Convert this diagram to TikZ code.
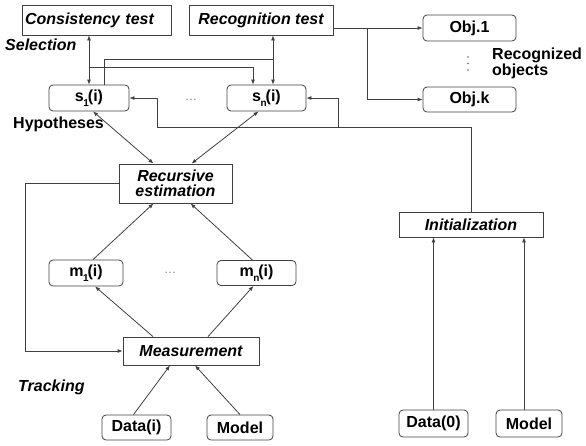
\documentclass[tikz,border=0pt]{standalone}
\usepackage{fontspec}
\setmainfont{Liberation Sans}
\usetikzlibrary{arrows.meta}
\newcommand{\lowsub}[1]{\kern-0.5pt\raisebox{-4.5pt}{\fontsize{10}{10}\selectfont #1}\kern-1pt}

\begin{document}
\begin{tikzpicture}[
  x=1pt, y=-1pt,
  font=\fontsize{16}{13}\selectfont\bfseries,
  arrow/.style={-{Latex[length=5pt,width=4pt]}, line width=0.8pt, draw=black!75},
  biarrow/.style={{Latex[length=5pt,width=4pt]}-{Latex[length=5pt,width=4pt]}, line width=0.8pt, draw=black!75},
  line/.style={line width=0.8pt, draw=black!75},
  proc/.style={draw=black!75, line width=0.8pt, inner sep=0pt, align=center,
    font=\fontsize{16}{15}\selectfont\bfseries\itshape},
  item/.style={draw=black!75, line width=0.8pt, rounded corners=4pt, inner sep=0pt},
  note/.style={inner sep=0pt, anchor=west},
  slant/.style={font=\fontsize{16}{13}\selectfont\bfseries\itshape},
  gap/.style={inner sep=0pt, text=black!50, font=\fontsize{12}{12}\selectfont}
]
\useasboundingbox (0,0) rectangle (586,445);

\node[proc, text width=143pt, inner xsep=3pt, align=left, minimum height=30pt] (cons) at (96.5,20) {Consistency test};
\node[proc, minimum width=144pt, minimum height=30pt] (recog) at (261,20) {Recognition test};
\node[item, minimum width=93pt, minimum height=26pt] (obj1) at (469.5,28) {Obj.1};
\node[item, minimum width=93pt, minimum height=25pt] (objk) at (469.5,99.5) {Obj.k};
\foreach \y in {57,63.5,70} \fill[black!60] (468,\y) circle (0.9);
\node[note, align=left] (recobj) at (492,63) {Recognized\\objects};

\node[note, slant] (sel) at (5,45) {Selection};
\node[item, minimum width=80pt, minimum height=26pt] (s1) at (89,98) {s\lowsub{1}(i)};
\node[item, minimum width=79pt, minimum height=26pt] (sn) at (266.5,98) {s\lowsub{n}(i)};
\node[gap] (sdots) at (191,100) {\dots};
\node[note] (hyp) at (13,124) {Hypotheses};

\node[proc, minimum width=113pt, minimum height=39pt] (rec) at (175.5,183.5) {Recursive\\estimation};
\node[item, minimum width=74pt, minimum height=26pt] (m1) at (86,273) {m\lowsub{1}(i)};
\node[item, minimum width=79pt, minimum height=25pt] (mn) at (256.5,273) {m\lowsub{n}(i)};
\node[gap] (mdots) at (170,273) {\dots};
\node[proc, minimum width=136pt, minimum height=28pt] (meas) at (191,351) {Measurement};
\node[note, slant] (track) at (18,387) {Tracking};
\node[item, minimum width=69pt, minimum height=25pt] (datai) at (136.5,427.5) {Data(i)};
\node[item, minimum width=66pt, minimum height=25pt] (modeli) at (240,427.5) {Model};

\node[proc, minimum width=144pt, minimum height=25pt] (init) at (471,224.5) {Initialization};
\node[item, minimum width=69pt, minimum height=27pt] (data0) at (433.5,423.5) {Data(0)};
\node[item, minimum width=66pt, minimum height=27pt] (model0) at (529,423.5) {Model};

\coordinate (rA) at ([xshift=6.5pt]sn.north);
\coordinate (cA) at ([xshift=-13.5pt]sn.north);
\coordinate (hA) at ([xshift=15pt]s1.north);
\coordinate (bus) at (157,127);
\coordinate (busn) at (338,127);
\coordinate (oA) at (367,28);

\draw[biarrow] (s1.north) -- (s1.north |- cons.south);
\draw[arrow] (s1.north |- 0,67) -| (cA);
\draw[biarrow] (rA) -- (rA |- recog.south);
\draw[line] (hA) |- (rA |- 0,59);
\draw[arrow] (recog.east |- obj1.west) -- (obj1.west);
\draw[arrow] (oA) |- (objk.west);
\draw[arrow] (init.north) |- (bus) |- (s1.east);
\draw[arrow] (busn) |- (sn.east);

\draw[biarrow] ([xshift=4pt]s1.south) -- ([xshift=-22pt]rec.north);
\draw[biarrow] ([xshift=-8pt]sn.south) -- ([xshift=16pt]rec.north);
\draw[arrow] ([xshift=7pt]m1.north) -- ([xshift=-22pt]rec.south);
\draw[arrow] ([xshift=-4pt]mn.north) -- ([xshift=15pt]rec.south);
\draw[arrow] ([xshift=-38pt]meas.north) -- ([xshift=9pt]m1.south);
\draw[arrow] ([xshift=17pt]meas.north) -- ([xshift=-3pt]mn.south);
\draw[arrow] (rec.west) -- ++(-93,0) |- (meas.west);
\draw[arrow] ([xshift=-3pt]datai.north) -- ([xshift=-21pt]meas.south);
\draw[arrow] (modeli.north) -- ([xshift=4pt]meas.south);

\draw[arrow] (data0.north) -- (data0.north |- init.south);
\draw[arrow] ([xshift=-5pt]model0.north) -- ([xshift=-5pt]model0.north |- init.south);
\end{tikzpicture}
\end{document}
